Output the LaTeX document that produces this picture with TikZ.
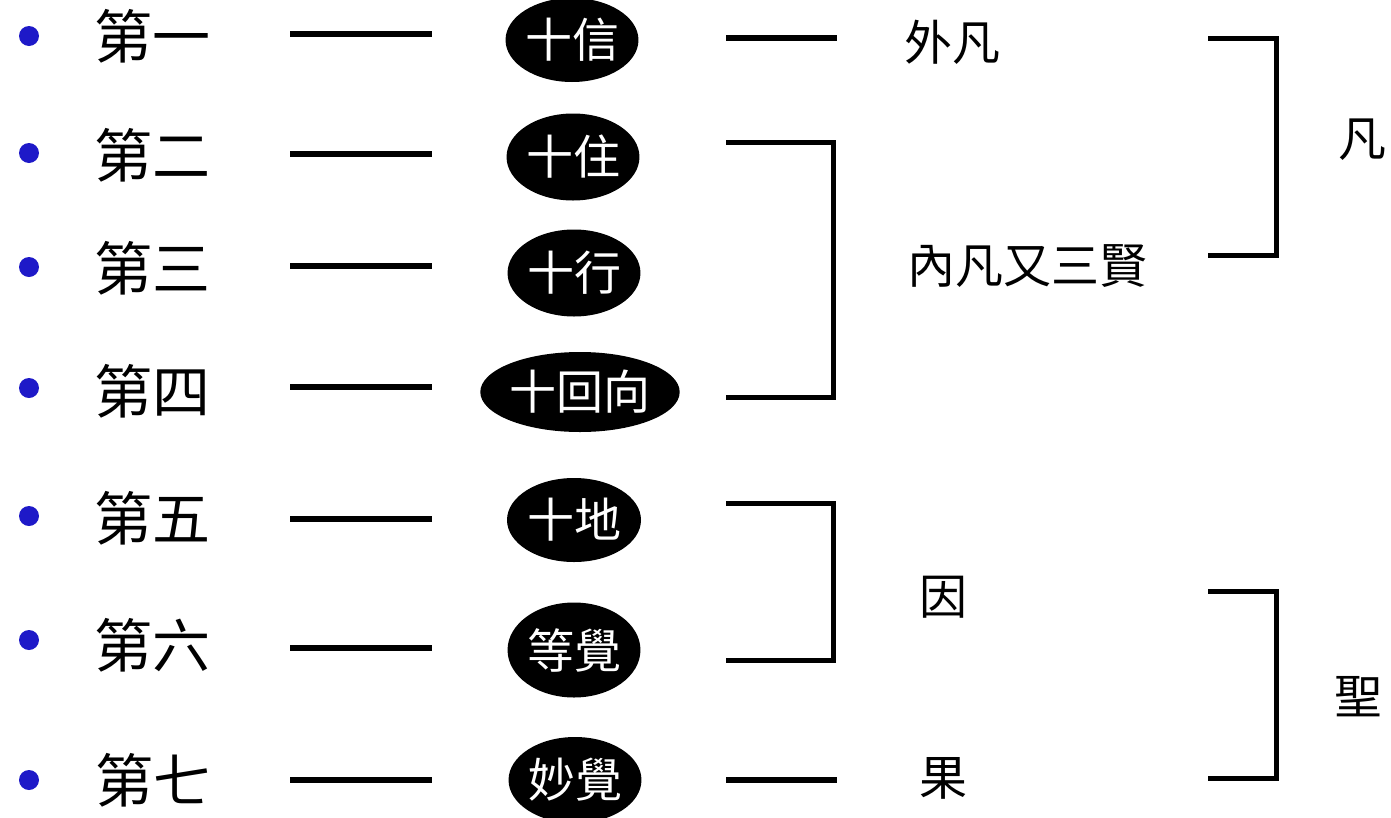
\documentclass[tikz,border=0pt]{standalone}
\usepackage{fontspec}
\newfontfamily\cjk{Noto Sans CJK TC}
\usetikzlibrary{shapes.geometric}
\definecolor{bul}{RGB}{30,25,200}
\begin{document}
\begin{tikzpicture}[x=1pt,y=-1pt,
  lab/.style={font=\cjk\fontsize{58}{62}\selectfont, inner sep=0},
  txt/.style={font=\cjk\fontsize{48}{52}\selectfont, inner sep=0},
  oval/.style={ellipse, fill=black, text=white, inner sep=0, font=\cjk\fontsize{47}{52}\selectfont},
  dotb/.style={circle, fill=bul, minimum size=20pt, inner sep=0},
  conn/.style={line width=5.5pt},
  brk/.style={line width=5pt, line join=miter}]
\useasboundingbox[fill=white] (0,0) rectangle (1391,817);

% bullets
\node[dotb] (p1) at (29,36) {};
\node[dotb] (p2) at (29,153) {};
\node[dotb] (p3) at (29,267) {};
\node[dotb] (p4) at (29,388) {};
\node[dotb] (p5) at (29,516) {};
\node[dotb] (p6) at (29,640) {};
\node[dotb] (p7) at (29,780) {};

% left labels
\node[lab] (d1) at (152,36) {第一};
\node[lab] (d2) at (152,155) {第二};
\node[lab] (d3) at (152,268) {第三};
\node[lab] (d4) at (152,391) {第四};
\node[lab] (d5) at (152,518) {第五};
\node[lab] (d6) at (152,645) {第六};
\node[lab] (d7) at (153,780) {第七};

% ovals
\node[oval, minimum width=129pt, minimum height=84pt] (e1) at (572,40) {十信};
\node[oval, minimum width=126pt, minimum height=87pt] (e2) at (573,157) {十住};
\node[oval, minimum width=130pt, minimum height=87pt] (e3) at (574,273) {十行};
\node[oval, minimum width=174pt, minimum height=80pt] (e4) at (580,392) {十回向};
\node[oval, minimum width=134pt, minimum height=84pt] (e5) at (574,520) {十地};
\node[oval, minimum width=128pt, minimum height=95pt] (e6) at (574,650) {等覺};
\node[oval, minimum width=126pt, minimum height=86pt] (e7) at (575,780) {妙覺};

% left connectors
\foreach \i/\y in {1/34,2/154,3/266,4/387,5/519,6/648,7/780}{
  \coordinate (la\i) at (290,\y);
  \coordinate (lb\i) at (432,\y);
  \draw[conn] (la\i) -- (lb\i);
}

% right labels
\node[txt] (r1) at (952,42) {外凡};
\node[txt] (r2) at (1027,266) {內凡又三賢};
\node[txt] (r3) at (943,597) {因};
\node[txt] (r4) at (943,778) {果};
\node[txt] (s1) at (1362,140) {凡};
\node[txt] (s2) at (1358,697) {聖};

% short right connectors
\coordinate (ra1) at (726,38);  \coordinate (rb1) at (837,38);
\coordinate (ra7) at (726,780); \coordinate (rb7) at (837,780);
\draw[conn] (ra1) -- (rb1);
\draw[conn] (ra7) -- (rb7);

% brackets
\coordinate (b1t) at (726,142); \coordinate (b1b) at (726,397);
\draw[brk] (b1t) -- (833,142) -- (833,397) -- (b1b);
\coordinate (b2t) at (726,503); \coordinate (b2b) at (726,660);
\draw[brk] (b2t) -- (833,503) -- (833,660) -- (b2b);
\coordinate (b3t) at (1208,38); \coordinate (b3b) at (1208,255);
\draw[brk] (b3t) -- (1276,38) -- (1276,255) -- (b3b);
\coordinate (b4t) at (1208,591); \coordinate (b4b) at (1208,778);
\draw[brk] (b4t) -- (1276,591) -- (1276,778) -- (b4b);
\end{tikzpicture}
\end{document}
